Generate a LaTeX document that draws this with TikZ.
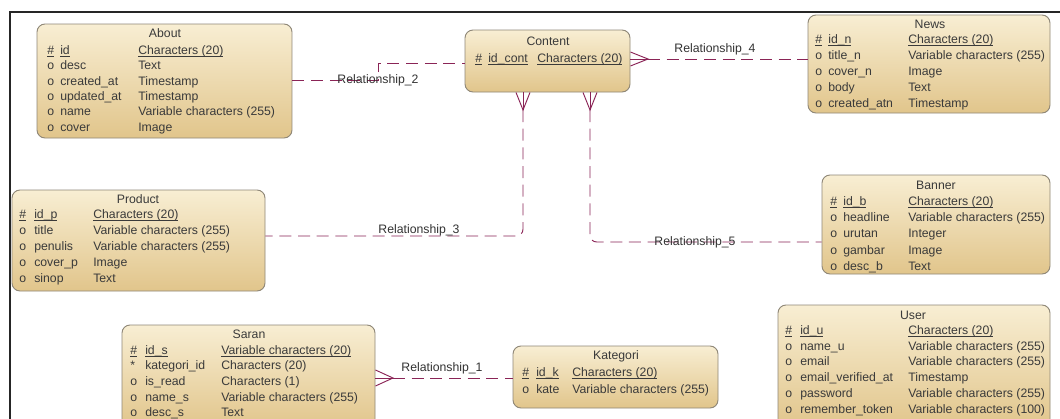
\documentclass[tikz,border=0pt]{standalone}
\usepackage{fontspec}
\setmainfont{Liberation Sans}
\usetikzlibrary{calc}

\definecolor{relc}{HTML}{8A2456}
\definecolor{boxline}{HTML}{8F8777}
\definecolor{boxtop}{HTML}{F8EED3}
\definecolor{boxbot}{HTML}{E1C58B}
\definecolor{txt}{HTML}{3A3A3A}

% underline that sits just under the baseline, whatever the descenders
\newcommand\keyul[1]{\underline{\smash{#1}}}
% primary-key row: marker, name and type, all underlined
\newcommand\pkrow[7]{%
  \node[att] (#1-pm) at (#2,#5) {\keyul{\#}};
  \node[att] (#1-pn) at (#3,#5) {\keyul{#6}};
  \node[att] (#1-pt) at (#4,#5) {\keyul{#7}};}
% remaining attribute rows below the key row
\newcommand\attrows[7]{%
  \foreach \mk/\an/\at [count=\i] in {#7} {
    \node[att] (#1-m\i) at (#2,#5+#6*\i) {\mk};
    \node[att] (#1-n\i) at (#3,#5+#6*\i) {\an};
    \node[att] (#1-t\i) at (#4,#5+#6*\i) {\at};
  }}

\begin{document}
\begin{tikzpicture}[x=0.75pt,y=-0.75pt,
  ent/.style 2 args={draw=boxline, line width=0.7pt, rounded corners=6pt,
    top color=boxtop, bottom color=boxbot,
    minimum width=#1*0.75pt, minimum height=#2*0.75pt, inner sep=0pt},
  ttl/.style={font=\fontsize{9.2}{10}\selectfont, text=txt, inner sep=0pt},
  att/.style={font=\fontsize{9.2}{10}\selectfont, text=txt, inner sep=0pt,
    anchor=west, text height=6.8pt, text depth=1.8pt},
  lbl/.style={font=\fontsize{9.2}{10}\selectfont, text=black!80, inner sep=1pt},
  rel/.style={draw=relc, line width=0.7pt, dash pattern=on 9pt off 5pt},
  foot/.style={draw=relc, line width=0.7pt},
  frame/.style={draw=black!85, line width=1.3pt}]

\useasboundingbox (0,0) rectangle (1060,418);
\clip (0,0) rectangle (1060,418);
\fill[white] (0,0) rectangle (1060,418);

% outer frame of the model sheet
\draw[frame] (10,430) -- (10,12) -- (1070,12);

% ---------------- entities ----------------
\node[ent={255}{114}] (about)    at (164.5,81)  {};
\node[ent={165}{62}]  (content)  at (547.5,61)  {};
\node[ent={242}{98}]  (news)     at (929,64)    {};
\node[ent={253}{101}] (product)  at (138.5,240.5) {};
\node[ent={228}{99}]  (banner)   at (936,224.5) {};
\node[ent={253}{103}] (saran)    at (248.5,376.5) {};
\node[ent={205}{62}]  (kategori) at (615.5,377) {};
\node[ent={272}{123}] (user)     at (914,366.5) {};

% About
\node[ttl] (about-h) at (165,33) {About};
\pkrow{about}{47}{60}{138}{51}{id}{Characters (20)}
\attrows{about}{47}{60}{138}{51}{15.4}{o/desc/Text, o/created\_at/Timestamp, o/updated\_at/Timestamp, o/name/Variable characters (255), o/cover/Image}

% Content
\node[ttl] (content-h) at (548,41) {Content};
\pkrow{content}{475}{488}{537}{59}{id\_cont}{Characters (20)}

% News
\node[ttl] (news-h) at (930,24) {News};
\pkrow{news}{815}{828}{908}{40}{id\_n}{Characters (20)}
\attrows{news}{815}{828}{908}{40}{16}{o/title\_n/Variable characters (255), o/cover\_n/Image, o/body/Text, o/created\_atn/Timestamp}

% Product
\node[ttl] (product-h) at (138,199) {Product};
\pkrow{product}{19}{34}{93}{215}{id\_p}{Characters (20)}
\attrows{product}{19}{34}{93}{215}{16}{o/title/Variable characters (255), o/penulis/Variable characters (255), o/cover\_p/Image, o/sinop/Text}

% Banner
\node[ttl] (banner-h) at (936,185) {Banner};
\pkrow{banner}{830}{843}{908}{202}{id\_b}{Characters (20)}
\attrows{banner}{830}{843}{908}{202}{16.3}{o/headline/Variable characters (255), o/urutan/Integer, o/gambar/Image, o/desc\_b/Text}

% Saran
\node[ttl] (saran-h) at (249,334) {Saran};
\pkrow{saran}{130}{145}{221}{351}{id\_s}{Variable characters (20)}
\attrows{saran}{130}{145}{221}{351}{15.6}{*/kategori\_id/Characters (20), o/is\_read/Characters (1), o/name\_s/Variable characters (255), o/desc\_s/Text}

% Kategori
\node[ttl] (kategori-h) at (616,356) {Kategori};
\pkrow{kategori}{522}{536}{572}{373}{id\_k}{Characters (20)}
\attrows{kategori}{522}{536}{572}{373}{17}{o/kate/Variable characters (255)}

% User
\node[ttl] (user-h) at (913,315) {User};
\pkrow{user}{785}{800}{908}{331}{id\_u}{Characters (20)}
\attrows{user}{785}{800}{908}{331}{15.8}{o/name\_u/Variable characters (255), o/email/Variable characters (255), o/email\_verified\_at/Timestamp, o/password/Variable characters (255), o/remember\_token/Variable characters (100)}

% ---------------- relationships ----------------
% Relationship_2 : About -- Content
\draw[rel] (about.east |- 0,80) -- (378,80) -- (378,63) -- (content.west |- 0,63);
\node[lbl] (r2) at (378,80) {Relationship\_2};

% Relationship_4 : Content (many) -- News
\draw[foot] (content.east |- 0,52) -- (648,59) -- (content.east |- 0,66);
\draw[foot] (content.east |- 0,59) -- (648,59);
\draw[rel] (648,59) -- (news.west |- 0,59);
\node[lbl] (r4) at (715,49) {Relationship\_4};

% Relationship_3 : Content (many) -- Product
\draw[foot] (content.south -| 516,0) -- (523,110) -- (content.south -| 530,0);
\draw[foot] (content.south -| 523,0) -- (523,110);
\draw[rel, rounded corners=5pt] (523,110) -- (523,236) -- (product.east |- 0,236);
\node[lbl] (r3) at (419,230) {Relationship\_3};

% Relationship_5 : Content (many) -- Banner
\draw[foot] (content.south -| 583,0) -- (590,110) -- (content.south -| 597,0);
\draw[foot] (content.south -| 590,0) -- (590,110);
\draw[rel, rounded corners=5pt] (590,110) -- (590,242) -- (banner.west |- 0,242);
\node[lbl] (r5) at (695,242) {Relationship\_5};

% Relationship_1 : Saran (many) -- Kategori
\draw[foot] (saran.east |- 0,370) -- (393,378) -- (saran.east |- 0,386);
\draw[foot] (saran.east |- 0,378) -- (393,378);
\draw[rel] (393,378) -- (kategori.west |- 0,378);
\node[lbl] (r1) at (442,368) {Relationship\_1};

\end{tikzpicture}
\end{document}
